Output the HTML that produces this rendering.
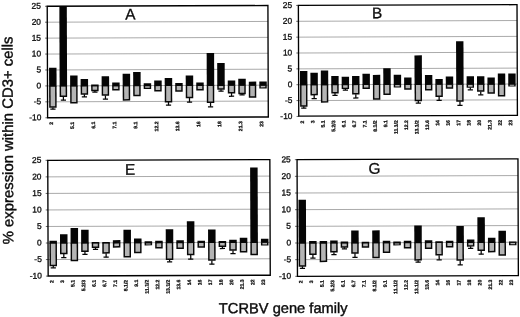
<!DOCTYPE html>
<html><head><meta charset="utf-8"><title>TCRBV gene family expression</title>
<style>
html,body{margin:0;padding:0;background:#fff;}
body{width:520px;height:317px;overflow:hidden;font-family:"Liberation Sans",sans-serif;}
svg{display:block;filter:blur(0.4px);}
.yt{stroke:#0c0c0c;stroke-width:0.3px;}
.xt{stroke:#0c0c0c;stroke-width:0.25px;}
.tt{stroke:#0c0c0c;stroke-width:0.4px;}
.pl{stroke:#0c0c0c;stroke-width:0.3px;}
text{font-family:"Liberation Sans",sans-serif;fill:#0c0c0c;text-rendering:geometricPrecision;}
</style></head>
<body>
<svg width="520" height="317" viewBox="0 0 520 317">
<rect width="520" height="317" fill="#ffffff"/>
<g transform="rotate(-0.2 260 158.5)">
<g>
<line x1="47.75" y1="21.46" x2="268.45" y2="21.46" stroke="#959595" stroke-width="0.8"/>
<line x1="47.75" y1="37.39" x2="268.45" y2="37.39" stroke="#959595" stroke-width="0.8"/>
<line x1="47.75" y1="53.31" x2="268.45" y2="53.31" stroke="#959595" stroke-width="0.8"/>
<line x1="47.75" y1="69.24" x2="268.45" y2="69.24" stroke="#959595" stroke-width="0.8"/>
<line x1="47.75" y1="85.17" x2="268.45" y2="85.17" stroke="#959595" stroke-width="0.8"/>
<line x1="47.75" y1="101.09" x2="268.45" y2="101.09" stroke="#959595" stroke-width="0.8"/>
<line x1="45.55" y1="5.54" x2="47.75" y2="5.54" stroke="#222" stroke-width="0.7"/>
<text x="41.45" y="8.04" font-size="8.4" text-anchor="end" class="yt">25</text>
<line x1="45.55" y1="21.46" x2="47.75" y2="21.46" stroke="#222" stroke-width="0.7"/>
<text x="41.45" y="23.96" font-size="8.4" text-anchor="end" class="yt">20</text>
<line x1="45.55" y1="37.39" x2="47.75" y2="37.39" stroke="#222" stroke-width="0.7"/>
<text x="41.45" y="39.89" font-size="8.4" text-anchor="end" class="yt">15</text>
<line x1="45.55" y1="53.31" x2="47.75" y2="53.31" stroke="#222" stroke-width="0.7"/>
<text x="41.45" y="55.81" font-size="8.4" text-anchor="end" class="yt">10</text>
<line x1="45.55" y1="69.24" x2="47.75" y2="69.24" stroke="#222" stroke-width="0.7"/>
<text x="41.45" y="71.74" font-size="8.4" text-anchor="end" class="yt">5</text>
<line x1="45.55" y1="85.17" x2="47.75" y2="85.17" stroke="#222" stroke-width="0.7"/>
<text x="41.45" y="87.67" font-size="8.4" text-anchor="end" class="yt">0</text>
<line x1="45.55" y1="101.09" x2="47.75" y2="101.09" stroke="#222" stroke-width="0.7"/>
<text x="41.45" y="103.59" font-size="8.4" text-anchor="end" class="yt">-5</text>
<line x1="45.55" y1="117.02" x2="47.75" y2="117.02" stroke="#222" stroke-width="0.7"/>
<text x="41.45" y="119.52" font-size="8.4" text-anchor="end" class="yt">-10</text>
<line x1="53.1" y1="106.66" x2="53.1" y2="108.42" stroke="#050505" stroke-width="1.25"/>
<line x1="50.5" y1="108.42" x2="55.7" y2="108.42" stroke="#050505" stroke-width="1.25"/>
<rect x="49.37" y="85.17" width="7.46" height="21.9" fill="#080808"/>
<rect x="50.82" y="85.67" width="4.56" height="19.9" fill="#b4b4b4"/>
<rect x="49.37" y="67.11" width="7.46" height="18.66" fill="#050505"/>
<line x1="63.61" y1="95.99" x2="63.61" y2="99.5" stroke="#050505" stroke-width="1.25"/>
<line x1="61.01" y1="99.5" x2="66.21" y2="99.5" stroke="#050505" stroke-width="1.25"/>
<rect x="59.88" y="85.17" width="7.46" height="11.23" fill="#080808"/>
<rect x="61.33" y="85.67" width="4.56" height="9.23" fill="#b4b4b4"/>
<rect x="59.88" y="5.54" width="7.46" height="80.22" fill="#050505"/>
<rect x="70.39" y="85.17" width="7.46" height="17.6" fill="#080808"/>
<rect x="71.84" y="85.67" width="4.56" height="15.6" fill="#b4b4b4"/>
<rect x="70.39" y="74.81" width="7.46" height="10.95" fill="#050505"/>
<line x1="84.63" y1="93.76" x2="84.63" y2="96.31" stroke="#050505" stroke-width="1.25"/>
<line x1="82.03" y1="96.31" x2="87.23" y2="96.31" stroke="#050505" stroke-width="1.25"/>
<rect x="80.9" y="85.17" width="7.46" height="9" fill="#080808"/>
<rect x="82.35" y="85.67" width="4.56" height="7" fill="#b4b4b4"/>
<rect x="80.9" y="78.48" width="7.46" height="7.29" fill="#050505"/>
<line x1="95.14" y1="90.26" x2="95.14" y2="91.54" stroke="#050505" stroke-width="1.25"/>
<line x1="92.54" y1="91.54" x2="97.74" y2="91.54" stroke="#050505" stroke-width="1.25"/>
<rect x="91.41" y="85.17" width="7.46" height="5.5" fill="#080808"/>
<rect x="92.86" y="85.67" width="4.56" height="3.5" fill="#b4b4b4"/>
<rect x="91.41" y="83.89" width="7.46" height="1.87" fill="#050505"/>
<line x1="105.65" y1="94.88" x2="105.65" y2="98.54" stroke="#050505" stroke-width="1.25"/>
<line x1="103.05" y1="98.54" x2="108.25" y2="98.54" stroke="#050505" stroke-width="1.25"/>
<rect x="101.92" y="85.17" width="7.46" height="10.11" fill="#080808"/>
<rect x="103.37" y="85.67" width="4.56" height="8.11" fill="#b4b4b4"/>
<rect x="101.92" y="75.77" width="7.46" height="10" fill="#050505"/>
<rect x="112.43" y="85.17" width="7.46" height="4.86" fill="#080808"/>
<rect x="113.88" y="85.67" width="4.56" height="2.86" fill="#b4b4b4"/>
<rect x="112.43" y="81.98" width="7.46" height="3.79" fill="#050505"/>
<rect x="122.94" y="85.17" width="7.46" height="14.99" fill="#080808"/>
<rect x="124.39" y="85.67" width="4.56" height="12.99" fill="#b4b4b4"/>
<rect x="122.94" y="73.38" width="7.46" height="12.38" fill="#050505"/>
<rect x="133.45" y="85.17" width="7.46" height="10.69" fill="#080808"/>
<rect x="134.9" y="85.67" width="4.56" height="8.69" fill="#b4b4b4"/>
<rect x="133.45" y="71.63" width="7.46" height="14.14" fill="#050505"/>
<rect x="143.96" y="85.17" width="7.46" height="3.36" fill="#080808"/>
<rect x="145.41" y="85.67" width="4.56" height="1.79" fill="#b4b4b4"/>
<rect x="143.96" y="82.78" width="7.46" height="2.99" fill="#050505"/>
<rect x="154.47" y="85.17" width="7.46" height="6.07" fill="#080808"/>
<rect x="155.92" y="85.67" width="4.56" height="4.07" fill="#b4b4b4"/>
<rect x="154.47" y="80.07" width="7.46" height="5.7" fill="#050505"/>
<line x1="168.71" y1="101.66" x2="168.71" y2="104.85" stroke="#050505" stroke-width="1.25"/>
<line x1="166.11" y1="104.85" x2="171.31" y2="104.85" stroke="#050505" stroke-width="1.25"/>
<rect x="164.98" y="85.17" width="7.46" height="16.9" fill="#080808"/>
<rect x="166.43" y="85.67" width="4.56" height="14.9" fill="#b4b4b4"/>
<rect x="164.98" y="77.68" width="7.46" height="8.08" fill="#050505"/>
<rect x="175.49" y="85.17" width="7.46" height="6.39" fill="#080808"/>
<rect x="176.94" y="85.67" width="4.56" height="4.39" fill="#b4b4b4"/>
<rect x="175.49" y="82.78" width="7.46" height="2.99" fill="#050505"/>
<line x1="189.73" y1="97.52" x2="189.73" y2="101.98" stroke="#050505" stroke-width="1.25"/>
<line x1="187.13" y1="101.98" x2="192.33" y2="101.98" stroke="#050505" stroke-width="1.25"/>
<rect x="186" y="85.17" width="7.46" height="12.76" fill="#080808"/>
<rect x="187.45" y="85.67" width="4.56" height="10.76" fill="#b4b4b4"/>
<rect x="186" y="75.29" width="7.46" height="10.47" fill="#050505"/>
<rect x="196.51" y="85.17" width="7.46" height="5.02" fill="#080808"/>
<rect x="197.96" y="85.67" width="4.56" height="3.02" fill="#b4b4b4"/>
<rect x="196.51" y="82.23" width="7.46" height="3.53" fill="#050505"/>
<line x1="210.75" y1="102.52" x2="210.75" y2="106.66" stroke="#050505" stroke-width="1.25"/>
<line x1="208.15" y1="106.66" x2="213.35" y2="106.66" stroke="#050505" stroke-width="1.25"/>
<rect x="207.02" y="85.17" width="7.46" height="17.76" fill="#080808"/>
<rect x="208.47" y="85.67" width="4.56" height="15.76" fill="#b4b4b4"/>
<rect x="207.02" y="52.77" width="7.46" height="32.99" fill="#050505"/>
<line x1="221.26" y1="89.15" x2="221.26" y2="91.06" stroke="#050505" stroke-width="1.25"/>
<line x1="218.66" y1="91.06" x2="223.86" y2="91.06" stroke="#050505" stroke-width="1.25"/>
<rect x="217.53" y="85.17" width="7.46" height="4.38" fill="#080808"/>
<rect x="218.98" y="85.67" width="4.56" height="2.48" fill="#b4b4b4"/>
<rect x="217.53" y="62.97" width="7.46" height="22.8" fill="#050505"/>
<line x1="231.77" y1="92.97" x2="231.77" y2="96.15" stroke="#050505" stroke-width="1.25"/>
<line x1="229.17" y1="96.15" x2="234.37" y2="96.15" stroke="#050505" stroke-width="1.25"/>
<rect x="228.04" y="85.17" width="7.46" height="8.2" fill="#080808"/>
<rect x="229.49" y="85.67" width="4.56" height="6.2" fill="#b4b4b4"/>
<rect x="228.04" y="80.32" width="7.46" height="5.44" fill="#050505"/>
<line x1="242.28" y1="93.76" x2="242.28" y2="94.88" stroke="#050505" stroke-width="1.25"/>
<line x1="239.68" y1="94.88" x2="244.88" y2="94.88" stroke="#050505" stroke-width="1.25"/>
<rect x="238.55" y="85.17" width="7.46" height="9" fill="#080808"/>
<rect x="240" y="85.67" width="4.56" height="7" fill="#b4b4b4"/>
<rect x="238.55" y="78.73" width="7.46" height="7.03" fill="#050505"/>
<rect x="249.05" y="85.17" width="7.46" height="12.66" fill="#080808"/>
<rect x="250.5" y="85.67" width="4.56" height="10.66" fill="#b4b4b4"/>
<rect x="249.05" y="81.6" width="7.46" height="4.17" fill="#050505"/>
<rect x="259.56" y="85.17" width="7.46" height="3.27" fill="#080808"/>
<rect x="261.01" y="85.67" width="4.56" height="1.72" fill="#b4b4b4"/>
<rect x="259.56" y="81.6" width="7.46" height="4.17" fill="#050505"/>
<rect x="47.75" y="5.54" width="220.7" height="111.48" fill="none" stroke="#000" stroke-width="1.35"/>
<text transform="translate(53.2,121.15) rotate(-90)" font-size="5.1" font-weight="bold" text-anchor="end" class="xt">2</text>
<text transform="translate(74.22,121.15) rotate(-90)" font-size="5.1" font-weight="bold" text-anchor="end" class="xt">5.1</text>
<text transform="translate(95.24,121.15) rotate(-90)" font-size="5.1" font-weight="bold" text-anchor="end" class="xt">6.1</text>
<text transform="translate(116.26,121.15) rotate(-90)" font-size="5.1" font-weight="bold" text-anchor="end" class="xt">7.1</text>
<text transform="translate(137.28,121.15) rotate(-90)" font-size="5.1" font-weight="bold" text-anchor="end" class="xt">9.1</text>
<text transform="translate(158.3,121.15) rotate(-90)" font-size="5.1" font-weight="bold" text-anchor="end" class="xt">12.2</text>
<text transform="translate(179.32,121.15) rotate(-90)" font-size="5.1" font-weight="bold" text-anchor="end" class="xt">13.6</text>
<text transform="translate(200.34,121.15) rotate(-90)" font-size="5.1" font-weight="bold" text-anchor="end" class="xt">16</text>
<text transform="translate(221.36,121.15) rotate(-90)" font-size="5.1" font-weight="bold" text-anchor="end" class="xt">18</text>
<text transform="translate(242.38,121.15) rotate(-90)" font-size="5.1" font-weight="bold" text-anchor="end" class="xt">21.3</text>
<text transform="translate(263.4,121.15) rotate(-90)" font-size="5.1" font-weight="bold" text-anchor="end" class="xt">23</text>
<text x="130.8" y="19" font-size="15.4" text-anchor="middle" class="pl">A</text>
</g>
<g>
<line x1="298.9" y1="21.42" x2="517.55" y2="21.42" stroke="#959595" stroke-width="0.8"/>
<line x1="298.9" y1="37.28" x2="517.55" y2="37.28" stroke="#959595" stroke-width="0.8"/>
<line x1="298.9" y1="53.14" x2="517.55" y2="53.14" stroke="#959595" stroke-width="0.8"/>
<line x1="298.9" y1="69" x2="517.55" y2="69" stroke="#959595" stroke-width="0.8"/>
<line x1="298.9" y1="84.86" x2="517.55" y2="84.86" stroke="#959595" stroke-width="0.8"/>
<line x1="298.9" y1="100.72" x2="517.55" y2="100.72" stroke="#959595" stroke-width="0.8"/>
<line x1="296.7" y1="5.56" x2="298.9" y2="5.56" stroke="#222" stroke-width="0.7"/>
<text x="292.6" y="8.06" font-size="8.4" text-anchor="end" class="yt">25</text>
<line x1="296.7" y1="21.42" x2="298.9" y2="21.42" stroke="#222" stroke-width="0.7"/>
<text x="292.6" y="23.92" font-size="8.4" text-anchor="end" class="yt">20</text>
<line x1="296.7" y1="37.28" x2="298.9" y2="37.28" stroke="#222" stroke-width="0.7"/>
<text x="292.6" y="39.78" font-size="8.4" text-anchor="end" class="yt">15</text>
<line x1="296.7" y1="53.14" x2="298.9" y2="53.14" stroke="#222" stroke-width="0.7"/>
<text x="292.6" y="55.64" font-size="8.4" text-anchor="end" class="yt">10</text>
<line x1="296.7" y1="69" x2="298.9" y2="69" stroke="#222" stroke-width="0.7"/>
<text x="292.6" y="71.5" font-size="8.4" text-anchor="end" class="yt">5</text>
<line x1="296.7" y1="84.86" x2="298.9" y2="84.86" stroke="#222" stroke-width="0.7"/>
<text x="292.6" y="87.36" font-size="8.4" text-anchor="end" class="yt">0</text>
<line x1="296.7" y1="100.72" x2="298.9" y2="100.72" stroke="#222" stroke-width="0.7"/>
<text x="292.6" y="103.22" font-size="8.4" text-anchor="end" class="yt">-5</text>
<line x1="296.7" y1="116.58" x2="298.9" y2="116.58" stroke="#222" stroke-width="0.7"/>
<text x="292.6" y="119.08" font-size="8.4" text-anchor="end" class="yt">-10</text>
<line x1="303.99" y1="106.43" x2="303.99" y2="108.33" stroke="#050505" stroke-width="1.25"/>
<line x1="301.39" y1="108.33" x2="306.59" y2="108.33" stroke="#050505" stroke-width="1.25"/>
<rect x="300.29" y="84.86" width="7.39" height="21.97" fill="#080808"/>
<rect x="301.74" y="85.36" width="4.49" height="19.97" fill="#b4b4b4"/>
<rect x="300.29" y="71.06" width="7.39" height="14.4" fill="#050505"/>
<line x1="314.4" y1="95.17" x2="314.4" y2="98.82" stroke="#050505" stroke-width="1.25"/>
<line x1="311.8" y1="98.82" x2="317" y2="98.82" stroke="#050505" stroke-width="1.25"/>
<rect x="310.7" y="84.86" width="7.39" height="10.71" fill="#080808"/>
<rect x="312.15" y="85.36" width="4.49" height="8.71" fill="#b4b4b4"/>
<rect x="310.7" y="72.97" width="7.39" height="12.5" fill="#050505"/>
<rect x="321.11" y="84.86" width="7.39" height="18" fill="#080808"/>
<rect x="322.56" y="85.36" width="4.49" height="16" fill="#b4b4b4"/>
<rect x="321.11" y="70.74" width="7.39" height="14.72" fill="#050505"/>
<line x1="335.22" y1="93.27" x2="335.22" y2="95.64" stroke="#050505" stroke-width="1.25"/>
<line x1="332.62" y1="95.64" x2="337.82" y2="95.64" stroke="#050505" stroke-width="1.25"/>
<rect x="331.53" y="84.86" width="7.39" height="8.81" fill="#080808"/>
<rect x="332.98" y="85.36" width="4.49" height="6.81" fill="#b4b4b4"/>
<rect x="331.53" y="76.3" width="7.39" height="9.16" fill="#050505"/>
<line x1="345.63" y1="88.98" x2="345.63" y2="90.41" stroke="#050505" stroke-width="1.25"/>
<line x1="343.03" y1="90.41" x2="348.23" y2="90.41" stroke="#050505" stroke-width="1.25"/>
<rect x="341.94" y="84.86" width="7.39" height="4.52" fill="#080808"/>
<rect x="343.39" y="85.36" width="4.49" height="2.58" fill="#b4b4b4"/>
<rect x="341.94" y="77.09" width="7.39" height="8.37" fill="#050505"/>
<line x1="356.05" y1="94.53" x2="356.05" y2="98.34" stroke="#050505" stroke-width="1.25"/>
<line x1="353.45" y1="98.34" x2="358.65" y2="98.34" stroke="#050505" stroke-width="1.25"/>
<rect x="352.35" y="84.86" width="7.39" height="10.07" fill="#080808"/>
<rect x="353.8" y="85.36" width="4.49" height="8.07" fill="#b4b4b4"/>
<rect x="352.35" y="76.3" width="7.39" height="9.16" fill="#050505"/>
<rect x="362.76" y="84.86" width="7.39" height="4.52" fill="#080808"/>
<rect x="364.21" y="85.36" width="4.49" height="2.58" fill="#b4b4b4"/>
<rect x="362.76" y="74.23" width="7.39" height="11.23" fill="#050505"/>
<rect x="373.17" y="84.86" width="7.39" height="15.4" fill="#080808"/>
<rect x="374.62" y="85.36" width="4.49" height="13.4" fill="#b4b4b4"/>
<rect x="373.17" y="75.28" width="7.39" height="10.18" fill="#050505"/>
<rect x="383.58" y="84.86" width="7.39" height="10.65" fill="#080808"/>
<rect x="385.03" y="85.36" width="4.49" height="8.65" fill="#b4b4b4"/>
<rect x="383.58" y="68.62" width="7.39" height="16.84" fill="#050505"/>
<rect x="394" y="84.86" width="7.39" height="3.03" fill="#080808"/>
<rect x="395.45" y="85.36" width="4.49" height="1.56" fill="#b4b4b4"/>
<rect x="394" y="75.28" width="7.39" height="10.18" fill="#050505"/>
<rect x="404.41" y="84.86" width="7.39" height="5.41" fill="#080808"/>
<rect x="405.86" y="85.36" width="4.49" height="3.41" fill="#b4b4b4"/>
<rect x="404.41" y="77.98" width="7.39" height="7.48" fill="#050505"/>
<line x1="418.52" y1="101.45" x2="418.52" y2="103.67" stroke="#050505" stroke-width="1.25"/>
<line x1="415.92" y1="103.67" x2="421.12" y2="103.67" stroke="#050505" stroke-width="1.25"/>
<rect x="414.82" y="84.86" width="7.39" height="16.99" fill="#080808"/>
<rect x="416.27" y="85.36" width="4.49" height="14.99" fill="#b4b4b4"/>
<rect x="414.82" y="55.93" width="7.39" height="29.53" fill="#050505"/>
<rect x="425.23" y="84.86" width="7.39" height="6.2" fill="#080808"/>
<rect x="426.68" y="85.36" width="4.49" height="4.2" fill="#b4b4b4"/>
<rect x="425.23" y="75.6" width="7.39" height="9.86" fill="#050505"/>
<line x1="439.34" y1="97.33" x2="439.34" y2="100.97" stroke="#050505" stroke-width="1.25"/>
<line x1="436.74" y1="100.97" x2="441.94" y2="100.97" stroke="#050505" stroke-width="1.25"/>
<rect x="435.64" y="84.86" width="7.39" height="12.87" fill="#080808"/>
<rect x="437.09" y="85.36" width="4.49" height="10.87" fill="#b4b4b4"/>
<rect x="435.64" y="79.72" width="7.39" height="5.74" fill="#050505"/>
<rect x="446.06" y="84.86" width="7.39" height="4.52" fill="#080808"/>
<rect x="447.51" y="85.36" width="4.49" height="2.58" fill="#b4b4b4"/>
<rect x="446.06" y="77.09" width="7.39" height="8.37" fill="#050505"/>
<line x1="460.16" y1="101.99" x2="460.16" y2="106.11" stroke="#050505" stroke-width="1.25"/>
<line x1="457.56" y1="106.11" x2="462.76" y2="106.11" stroke="#050505" stroke-width="1.25"/>
<rect x="456.47" y="84.86" width="7.39" height="17.53" fill="#080808"/>
<rect x="457.92" y="85.36" width="4.49" height="15.53" fill="#b4b4b4"/>
<rect x="456.47" y="41.88" width="7.39" height="43.58" fill="#050505"/>
<line x1="470.58" y1="88.19" x2="470.58" y2="90.57" stroke="#050505" stroke-width="1.25"/>
<line x1="467.98" y1="90.57" x2="473.18" y2="90.57" stroke="#050505" stroke-width="1.25"/>
<rect x="466.88" y="84.86" width="7.39" height="3.73" fill="#080808"/>
<rect x="468.33" y="85.36" width="4.49" height="2.04" fill="#b4b4b4"/>
<rect x="466.88" y="77.09" width="7.39" height="8.37" fill="#050505"/>
<line x1="480.99" y1="92.16" x2="480.99" y2="95.64" stroke="#050505" stroke-width="1.25"/>
<line x1="478.39" y1="95.64" x2="483.59" y2="95.64" stroke="#050505" stroke-width="1.25"/>
<rect x="477.29" y="84.86" width="7.39" height="7.7" fill="#080808"/>
<rect x="478.74" y="85.36" width="4.49" height="5.7" fill="#b4b4b4"/>
<rect x="477.29" y="77.09" width="7.39" height="8.37" fill="#050505"/>
<rect x="487.7" y="84.86" width="7.39" height="9.6" fill="#080808"/>
<rect x="489.15" y="85.36" width="4.49" height="7.6" fill="#b4b4b4"/>
<rect x="487.7" y="78.36" width="7.39" height="7.1" fill="#050505"/>
<rect x="498.12" y="84.86" width="7.39" height="12.45" fill="#080808"/>
<rect x="499.57" y="85.36" width="4.49" height="10.45" fill="#b4b4b4"/>
<rect x="498.12" y="74.39" width="7.39" height="11.07" fill="#050505"/>
<rect x="508.53" y="84.86" width="7.39" height="2.62" fill="#080808"/>
<rect x="509.98" y="85.36" width="4.49" height="1.28" fill="#b4b4b4"/>
<rect x="508.53" y="74.39" width="7.39" height="11.07" fill="#050505"/>
<rect x="298.9" y="5.56" width="218.65" height="110.74" fill="none" stroke="#000" stroke-width="1.35"/>
<text transform="translate(304.09,120.7) rotate(-90)" font-size="5.1" font-weight="bold" text-anchor="end" class="xt">2</text>
<text transform="translate(314.5,120.7) rotate(-90)" font-size="5.1" font-weight="bold" text-anchor="end" class="xt">3</text>
<text transform="translate(324.91,120.7) rotate(-90)" font-size="5.1" font-weight="bold" text-anchor="end" class="xt">5.1</text>
<text transform="translate(335.32,120.7) rotate(-90)" font-size="5.1" font-weight="bold" text-anchor="end" class="xt">5.2/3</text>
<text transform="translate(345.73,120.7) rotate(-90)" font-size="5.1" font-weight="bold" text-anchor="end" class="xt">6.1</text>
<text transform="translate(356.15,120.7) rotate(-90)" font-size="5.1" font-weight="bold" text-anchor="end" class="xt">6.7</text>
<text transform="translate(366.56,120.7) rotate(-90)" font-size="5.1" font-weight="bold" text-anchor="end" class="xt">7.1</text>
<text transform="translate(376.97,120.7) rotate(-90)" font-size="5.1" font-weight="bold" text-anchor="end" class="xt">8.1/2</text>
<text transform="translate(387.38,120.7) rotate(-90)" font-size="5.1" font-weight="bold" text-anchor="end" class="xt">9.1</text>
<text transform="translate(397.79,120.7) rotate(-90)" font-size="5.1" font-weight="bold" text-anchor="end" class="xt">11.1/2</text>
<text transform="translate(408.2,120.7) rotate(-90)" font-size="5.1" font-weight="bold" text-anchor="end" class="xt">12.2</text>
<text transform="translate(418.62,120.7) rotate(-90)" font-size="5.1" font-weight="bold" text-anchor="end" class="xt">13.1/2</text>
<text transform="translate(429.03,120.7) rotate(-90)" font-size="5.1" font-weight="bold" text-anchor="end" class="xt">13.6</text>
<text transform="translate(439.44,120.7) rotate(-90)" font-size="5.1" font-weight="bold" text-anchor="end" class="xt">14</text>
<text transform="translate(449.85,120.7) rotate(-90)" font-size="5.1" font-weight="bold" text-anchor="end" class="xt">16</text>
<text transform="translate(460.26,120.7) rotate(-90)" font-size="5.1" font-weight="bold" text-anchor="end" class="xt">17</text>
<text transform="translate(470.68,120.7) rotate(-90)" font-size="5.1" font-weight="bold" text-anchor="end" class="xt">18</text>
<text transform="translate(481.09,120.7) rotate(-90)" font-size="5.1" font-weight="bold" text-anchor="end" class="xt">20</text>
<text transform="translate(491.5,120.7) rotate(-90)" font-size="5.1" font-weight="bold" text-anchor="end" class="xt">21.3</text>
<text transform="translate(501.91,120.7) rotate(-90)" font-size="5.1" font-weight="bold" text-anchor="end" class="xt">22</text>
<text transform="translate(512.32,120.7) rotate(-90)" font-size="5.1" font-weight="bold" text-anchor="end" class="xt">23</text>
<text x="377.6" y="18.6" font-size="15.4" text-anchor="middle" class="pl">B</text>
</g>
<g>
<line x1="47.75" y1="176.13" x2="269.85" y2="176.13" stroke="#959595" stroke-width="0.8"/>
<line x1="47.75" y1="192.67" x2="269.85" y2="192.67" stroke="#959595" stroke-width="0.8"/>
<line x1="47.75" y1="209.2" x2="269.85" y2="209.2" stroke="#959595" stroke-width="0.8"/>
<line x1="47.75" y1="225.74" x2="269.85" y2="225.74" stroke="#959595" stroke-width="0.8"/>
<line x1="47.75" y1="242.27" x2="269.85" y2="242.27" stroke="#959595" stroke-width="0.8"/>
<line x1="47.75" y1="258.81" x2="269.85" y2="258.81" stroke="#959595" stroke-width="0.8"/>
<line x1="45.55" y1="159.6" x2="47.75" y2="159.6" stroke="#222" stroke-width="0.7"/>
<text x="41.45" y="162.1" font-size="8.4" text-anchor="end" class="yt">25</text>
<line x1="45.55" y1="176.13" x2="47.75" y2="176.13" stroke="#222" stroke-width="0.7"/>
<text x="41.45" y="178.63" font-size="8.4" text-anchor="end" class="yt">20</text>
<line x1="45.55" y1="192.67" x2="47.75" y2="192.67" stroke="#222" stroke-width="0.7"/>
<text x="41.45" y="195.17" font-size="8.4" text-anchor="end" class="yt">15</text>
<line x1="45.55" y1="209.2" x2="47.75" y2="209.2" stroke="#222" stroke-width="0.7"/>
<text x="41.45" y="211.7" font-size="8.4" text-anchor="end" class="yt">10</text>
<line x1="45.55" y1="225.74" x2="47.75" y2="225.74" stroke="#222" stroke-width="0.7"/>
<text x="41.45" y="228.24" font-size="8.4" text-anchor="end" class="yt">5</text>
<line x1="45.55" y1="242.27" x2="47.75" y2="242.27" stroke="#222" stroke-width="0.7"/>
<text x="41.45" y="244.77" font-size="8.4" text-anchor="end" class="yt">0</text>
<line x1="45.55" y1="258.81" x2="47.75" y2="258.81" stroke="#222" stroke-width="0.7"/>
<text x="41.45" y="261.31" font-size="8.4" text-anchor="end" class="yt">-5</text>
<line x1="45.55" y1="275.35" x2="47.75" y2="275.35" stroke="#222" stroke-width="0.7"/>
<text x="41.45" y="277.85" font-size="8.4" text-anchor="end" class="yt">-10</text>
<line x1="52.89" y1="265.09" x2="52.89" y2="267.08" stroke="#050505" stroke-width="1.25"/>
<line x1="50.29" y1="267.08" x2="55.49" y2="267.08" stroke="#050505" stroke-width="1.25"/>
<rect x="49.13" y="242.27" width="7.51" height="23.22" fill="#080808"/>
<rect x="50.58" y="242.77" width="4.61" height="21.22" fill="#b4b4b4"/>
<rect x="49.13" y="240.06" width="7.51" height="2.82" fill="#050505"/>
<line x1="63.46" y1="253.19" x2="63.46" y2="256.99" stroke="#050505" stroke-width="1.25"/>
<line x1="60.86" y1="256.99" x2="66.06" y2="256.99" stroke="#050505" stroke-width="1.25"/>
<rect x="59.71" y="242.27" width="7.51" height="11.31" fill="#080808"/>
<rect x="61.16" y="242.77" width="4.61" height="9.31" fill="#b4b4b4"/>
<rect x="59.71" y="233.58" width="7.51" height="9.3" fill="#050505"/>
<rect x="70.29" y="242.27" width="7.51" height="18.26" fill="#080808"/>
<rect x="71.74" y="242.77" width="4.61" height="16.26" fill="#b4b4b4"/>
<rect x="70.29" y="227.39" width="7.51" height="15.48" fill="#050505"/>
<line x1="84.62" y1="250.97" x2="84.62" y2="253.85" stroke="#050505" stroke-width="1.25"/>
<line x1="82.02" y1="253.85" x2="87.22" y2="253.85" stroke="#050505" stroke-width="1.25"/>
<rect x="80.86" y="242.27" width="7.51" height="9.1" fill="#080808"/>
<rect x="82.31" y="242.77" width="4.61" height="7.1" fill="#b4b4b4"/>
<rect x="80.86" y="229.05" width="7.51" height="13.83" fill="#050505"/>
<line x1="95.19" y1="247.07" x2="95.19" y2="248.72" stroke="#050505" stroke-width="1.25"/>
<line x1="92.59" y1="248.72" x2="97.79" y2="248.72" stroke="#050505" stroke-width="1.25"/>
<rect x="91.44" y="242.27" width="7.51" height="5.2" fill="#080808"/>
<rect x="92.89" y="242.77" width="4.61" height="3.2" fill="#b4b4b4"/>
<rect x="91.44" y="241.45" width="7.51" height="1.43" fill="#050505"/>
<line x1="105.77" y1="252.69" x2="105.77" y2="256.66" stroke="#050505" stroke-width="1.25"/>
<line x1="103.17" y1="256.66" x2="108.37" y2="256.66" stroke="#050505" stroke-width="1.25"/>
<rect x="102.01" y="242.27" width="7.51" height="10.82" fill="#080808"/>
<rect x="103.46" y="242.77" width="4.61" height="8.82" fill="#b4b4b4"/>
<rect x="102.01" y="241.45" width="7.51" height="1.43" fill="#050505"/>
<rect x="112.59" y="242.27" width="7.51" height="4.86" fill="#080808"/>
<rect x="114.04" y="242.77" width="4.61" height="2.86" fill="#b4b4b4"/>
<rect x="112.59" y="239.63" width="7.51" height="3.25" fill="#050505"/>
<rect x="123.17" y="242.27" width="7.51" height="14.79" fill="#080808"/>
<rect x="124.62" y="242.77" width="4.61" height="12.79" fill="#b4b4b4"/>
<rect x="123.17" y="229.38" width="7.51" height="13.5" fill="#050505"/>
<rect x="133.74" y="242.27" width="7.51" height="10.65" fill="#080808"/>
<rect x="135.19" y="242.77" width="4.61" height="8.65" fill="#b4b4b4"/>
<rect x="133.74" y="237.98" width="7.51" height="4.9" fill="#050505"/>
<rect x="144.32" y="242.27" width="7.51" height="2.71" fill="#080808"/>
<rect x="145.77" y="242.77" width="4.61" height="1.35" fill="#b4b4b4"/>
<rect x="144.32" y="240.95" width="7.51" height="1.92" fill="#050505"/>
<rect x="154.9" y="242.27" width="7.51" height="5.86" fill="#080808"/>
<rect x="156.35" y="242.77" width="4.61" height="3.86" fill="#b4b4b4"/>
<rect x="154.9" y="240.46" width="7.51" height="2.42" fill="#050505"/>
<line x1="169.23" y1="259.31" x2="169.23" y2="261.46" stroke="#050505" stroke-width="1.25"/>
<line x1="166.63" y1="261.46" x2="171.83" y2="261.46" stroke="#050505" stroke-width="1.25"/>
<rect x="165.47" y="242.27" width="7.51" height="17.43" fill="#080808"/>
<rect x="166.92" y="242.77" width="4.61" height="15.43" fill="#b4b4b4"/>
<rect x="165.47" y="228.88" width="7.51" height="13.99" fill="#050505"/>
<rect x="176.05" y="242.27" width="7.51" height="6.35" fill="#080808"/>
<rect x="177.5" y="242.77" width="4.61" height="4.35" fill="#b4b4b4"/>
<rect x="176.05" y="239.96" width="7.51" height="2.91" fill="#050505"/>
<line x1="190.38" y1="254.51" x2="190.38" y2="258.98" stroke="#050505" stroke-width="1.25"/>
<line x1="187.78" y1="258.98" x2="192.98" y2="258.98" stroke="#050505" stroke-width="1.25"/>
<rect x="186.62" y="242.27" width="7.51" height="12.64" fill="#080808"/>
<rect x="188.07" y="242.77" width="4.61" height="10.64" fill="#b4b4b4"/>
<rect x="186.62" y="220.94" width="7.51" height="21.93" fill="#050505"/>
<rect x="197.2" y="242.27" width="7.51" height="5.33" fill="#080808"/>
<rect x="198.65" y="242.77" width="4.61" height="3.33" fill="#b4b4b4"/>
<rect x="197.2" y="240.46" width="7.51" height="2.42" fill="#050505"/>
<line x1="211.53" y1="260.27" x2="211.53" y2="264.07" stroke="#050505" stroke-width="1.25"/>
<line x1="208.93" y1="264.07" x2="214.13" y2="264.07" stroke="#050505" stroke-width="1.25"/>
<rect x="207.78" y="242.27" width="7.51" height="18.39" fill="#080808"/>
<rect x="209.23" y="242.77" width="4.61" height="16.39" fill="#b4b4b4"/>
<rect x="207.78" y="229.38" width="7.51" height="13.5" fill="#050505"/>
<line x1="222.11" y1="246.38" x2="222.11" y2="248.36" stroke="#050505" stroke-width="1.25"/>
<line x1="219.51" y1="248.36" x2="224.71" y2="248.36" stroke="#050505" stroke-width="1.25"/>
<rect x="218.35" y="242.27" width="7.51" height="4.5" fill="#080808"/>
<rect x="219.8" y="242.77" width="4.61" height="2.56" fill="#b4b4b4"/>
<rect x="218.35" y="240.95" width="7.51" height="1.92" fill="#050505"/>
<line x1="232.68" y1="250.34" x2="232.68" y2="253.49" stroke="#050505" stroke-width="1.25"/>
<line x1="230.08" y1="253.49" x2="235.28" y2="253.49" stroke="#050505" stroke-width="1.25"/>
<rect x="228.93" y="242.27" width="7.51" height="8.47" fill="#080808"/>
<rect x="230.38" y="242.77" width="4.61" height="6.47" fill="#b4b4b4"/>
<rect x="228.93" y="239.63" width="7.51" height="3.25" fill="#050505"/>
<rect x="239.5" y="242.27" width="7.51" height="10.12" fill="#080808"/>
<rect x="240.95" y="242.77" width="4.61" height="8.12" fill="#b4b4b4"/>
<rect x="239.5" y="237.65" width="7.51" height="5.23" fill="#050505"/>
<rect x="250.08" y="242.27" width="7.51" height="12.93" fill="#080808"/>
<rect x="251.53" y="242.77" width="4.61" height="10.93" fill="#b4b4b4"/>
<rect x="250.08" y="167.37" width="7.51" height="75.5" fill="#050505"/>
<rect x="260.66" y="242.27" width="7.51" height="3.34" fill="#080808"/>
<rect x="262.11" y="242.77" width="4.61" height="1.77" fill="#b4b4b4"/>
<rect x="260.66" y="238.8" width="7.51" height="4.07" fill="#050505"/>
<rect x="47.75" y="159.6" width="222.1" height="115.65" fill="none" stroke="#000" stroke-width="1.35"/>
<text transform="translate(52.99,279.35) rotate(-90)" font-size="5.1" font-weight="bold" text-anchor="end" class="xt">2</text>
<text transform="translate(63.56,279.35) rotate(-90)" font-size="5.1" font-weight="bold" text-anchor="end" class="xt">3</text>
<text transform="translate(74.14,279.35) rotate(-90)" font-size="5.1" font-weight="bold" text-anchor="end" class="xt">5.1</text>
<text transform="translate(84.72,279.35) rotate(-90)" font-size="5.1" font-weight="bold" text-anchor="end" class="xt">5.2/3</text>
<text transform="translate(95.29,279.35) rotate(-90)" font-size="5.1" font-weight="bold" text-anchor="end" class="xt">6.1</text>
<text transform="translate(105.87,279.35) rotate(-90)" font-size="5.1" font-weight="bold" text-anchor="end" class="xt">6.7</text>
<text transform="translate(116.45,279.35) rotate(-90)" font-size="5.1" font-weight="bold" text-anchor="end" class="xt">7.1</text>
<text transform="translate(127.02,279.35) rotate(-90)" font-size="5.1" font-weight="bold" text-anchor="end" class="xt">8.1/2</text>
<text transform="translate(137.6,279.35) rotate(-90)" font-size="5.1" font-weight="bold" text-anchor="end" class="xt">9.1</text>
<text transform="translate(148.17,279.35) rotate(-90)" font-size="5.1" font-weight="bold" text-anchor="end" class="xt">11.1/2</text>
<text transform="translate(158.75,279.35) rotate(-90)" font-size="5.1" font-weight="bold" text-anchor="end" class="xt">12.2</text>
<text transform="translate(169.33,279.35) rotate(-90)" font-size="5.1" font-weight="bold" text-anchor="end" class="xt">13.1/2</text>
<text transform="translate(179.9,279.35) rotate(-90)" font-size="5.1" font-weight="bold" text-anchor="end" class="xt">13.6</text>
<text transform="translate(190.48,279.35) rotate(-90)" font-size="5.1" font-weight="bold" text-anchor="end" class="xt">14</text>
<text transform="translate(201.05,279.35) rotate(-90)" font-size="5.1" font-weight="bold" text-anchor="end" class="xt">16</text>
<text transform="translate(211.63,279.35) rotate(-90)" font-size="5.1" font-weight="bold" text-anchor="end" class="xt">17</text>
<text transform="translate(222.21,279.35) rotate(-90)" font-size="5.1" font-weight="bold" text-anchor="end" class="xt">18</text>
<text transform="translate(232.78,279.35) rotate(-90)" font-size="5.1" font-weight="bold" text-anchor="end" class="xt">20</text>
<text transform="translate(243.36,279.35) rotate(-90)" font-size="5.1" font-weight="bold" text-anchor="end" class="xt">21.3</text>
<text transform="translate(253.94,279.35) rotate(-90)" font-size="5.1" font-weight="bold" text-anchor="end" class="xt">22</text>
<text transform="translate(264.51,279.35) rotate(-90)" font-size="5.1" font-weight="bold" text-anchor="end" class="xt">23</text>
<text x="130" y="174.3" font-size="15.4" text-anchor="middle" class="pl">E</text>
</g>
<g>
<line x1="297.05" y1="176.47" x2="517.95" y2="176.47" stroke="#959595" stroke-width="0.8"/>
<line x1="297.05" y1="193.13" x2="517.95" y2="193.13" stroke="#959595" stroke-width="0.8"/>
<line x1="297.05" y1="209.8" x2="517.95" y2="209.8" stroke="#959595" stroke-width="0.8"/>
<line x1="297.05" y1="226.46" x2="517.95" y2="226.46" stroke="#959595" stroke-width="0.8"/>
<line x1="297.05" y1="243.12" x2="517.95" y2="243.12" stroke="#959595" stroke-width="0.8"/>
<line x1="297.05" y1="259.79" x2="517.95" y2="259.79" stroke="#959595" stroke-width="0.8"/>
<line x1="294.85" y1="159.8" x2="297.05" y2="159.8" stroke="#222" stroke-width="0.7"/>
<text x="290.75" y="162.3" font-size="8.4" text-anchor="end" class="yt">25</text>
<line x1="294.85" y1="176.47" x2="297.05" y2="176.47" stroke="#222" stroke-width="0.7"/>
<text x="290.75" y="178.97" font-size="8.4" text-anchor="end" class="yt">20</text>
<line x1="294.85" y1="193.13" x2="297.05" y2="193.13" stroke="#222" stroke-width="0.7"/>
<text x="290.75" y="195.63" font-size="8.4" text-anchor="end" class="yt">15</text>
<line x1="294.85" y1="209.8" x2="297.05" y2="209.8" stroke="#222" stroke-width="0.7"/>
<text x="290.75" y="212.3" font-size="8.4" text-anchor="end" class="yt">10</text>
<line x1="294.85" y1="226.46" x2="297.05" y2="226.46" stroke="#222" stroke-width="0.7"/>
<text x="290.75" y="228.96" font-size="8.4" text-anchor="end" class="yt">5</text>
<line x1="294.85" y1="243.12" x2="297.05" y2="243.12" stroke="#222" stroke-width="0.7"/>
<text x="290.75" y="245.62" font-size="8.4" text-anchor="end" class="yt">0</text>
<line x1="294.85" y1="259.79" x2="297.05" y2="259.79" stroke="#222" stroke-width="0.7"/>
<text x="290.75" y="262.29" font-size="8.4" text-anchor="end" class="yt">-5</text>
<line x1="294.85" y1="276.46" x2="297.05" y2="276.46" stroke="#222" stroke-width="0.7"/>
<text x="290.75" y="278.96" font-size="8.4" text-anchor="end" class="yt">-10</text>
<line x1="302.06" y1="266.46" x2="302.06" y2="268.46" stroke="#050505" stroke-width="1.25"/>
<line x1="299.46" y1="268.46" x2="304.66" y2="268.46" stroke="#050505" stroke-width="1.25"/>
<rect x="298.33" y="243.12" width="7.47" height="23.73" fill="#080808"/>
<rect x="299.78" y="243.62" width="4.57" height="21.73" fill="#b4b4b4"/>
<rect x="298.33" y="199.8" width="7.47" height="43.93" fill="#050505"/>
<line x1="312.58" y1="254.79" x2="312.58" y2="258.29" stroke="#050505" stroke-width="1.25"/>
<line x1="309.98" y1="258.29" x2="315.18" y2="258.29" stroke="#050505" stroke-width="1.25"/>
<rect x="308.84" y="243.12" width="7.47" height="12.07" fill="#080808"/>
<rect x="310.29" y="243.62" width="4.57" height="10.07" fill="#b4b4b4"/>
<rect x="308.84" y="241.29" width="7.47" height="2.43" fill="#050505"/>
<rect x="319.36" y="243.12" width="7.47" height="19.23" fill="#080808"/>
<rect x="320.81" y="243.62" width="4.57" height="17.23" fill="#b4b4b4"/>
<rect x="319.36" y="241.29" width="7.47" height="2.43" fill="#050505"/>
<line x1="333.62" y1="252.46" x2="333.62" y2="254.79" stroke="#050505" stroke-width="1.25"/>
<line x1="331.02" y1="254.79" x2="336.22" y2="254.79" stroke="#050505" stroke-width="1.25"/>
<rect x="329.88" y="243.12" width="7.47" height="9.73" fill="#080808"/>
<rect x="331.33" y="243.62" width="4.57" height="7.73" fill="#b4b4b4"/>
<rect x="329.88" y="240.79" width="7.47" height="2.93" fill="#050505"/>
<line x1="344.14" y1="247.62" x2="344.14" y2="249.12" stroke="#050505" stroke-width="1.25"/>
<line x1="341.54" y1="249.12" x2="346.74" y2="249.12" stroke="#050505" stroke-width="1.25"/>
<rect x="340.4" y="243.12" width="7.47" height="4.9" fill="#080808"/>
<rect x="341.85" y="243.62" width="4.57" height="2.9" fill="#b4b4b4"/>
<rect x="340.4" y="241.79" width="7.47" height="1.93" fill="#050505"/>
<line x1="354.65" y1="253.62" x2="354.65" y2="257.62" stroke="#050505" stroke-width="1.25"/>
<line x1="352.05" y1="257.62" x2="357.25" y2="257.62" stroke="#050505" stroke-width="1.25"/>
<rect x="350.92" y="243.12" width="7.47" height="10.9" fill="#080808"/>
<rect x="352.37" y="243.62" width="4.57" height="8.9" fill="#b4b4b4"/>
<rect x="350.92" y="230.79" width="7.47" height="12.93" fill="#050505"/>
<rect x="361.44" y="243.12" width="7.47" height="5.07" fill="#080808"/>
<rect x="362.89" y="243.62" width="4.57" height="3.07" fill="#b4b4b4"/>
<rect x="361.44" y="242.13" width="7.47" height="1.6" fill="#050505"/>
<rect x="371.96" y="243.12" width="7.47" height="15.57" fill="#080808"/>
<rect x="373.41" y="243.62" width="4.57" height="13.57" fill="#b4b4b4"/>
<rect x="371.96" y="230.79" width="7.47" height="12.93" fill="#050505"/>
<rect x="382.48" y="243.12" width="7.47" height="10.4" fill="#080808"/>
<rect x="383.93" y="243.62" width="4.57" height="8.4" fill="#b4b4b4"/>
<rect x="382.48" y="241.29" width="7.47" height="2.43" fill="#050505"/>
<rect x="393" y="243.12" width="7.47" height="2.73" fill="#080808"/>
<rect x="394.45" y="243.62" width="4.57" height="1.36" fill="#b4b4b4"/>
<rect x="393" y="241.96" width="7.47" height="1.77" fill="#050505"/>
<rect x="403.52" y="243.12" width="7.47" height="5.9" fill="#080808"/>
<rect x="404.97" y="243.62" width="4.57" height="3.9" fill="#b4b4b4"/>
<rect x="403.52" y="241.29" width="7.47" height="2.43" fill="#050505"/>
<line x1="417.77" y1="260.79" x2="417.77" y2="262.79" stroke="#050505" stroke-width="1.25"/>
<line x1="415.17" y1="262.79" x2="420.37" y2="262.79" stroke="#050505" stroke-width="1.25"/>
<rect x="414.03" y="243.12" width="7.47" height="18.06" fill="#080808"/>
<rect x="415.48" y="243.62" width="4.57" height="16.06" fill="#b4b4b4"/>
<rect x="414.03" y="226.13" width="7.47" height="17.6" fill="#050505"/>
<rect x="424.55" y="243.12" width="7.47" height="6.4" fill="#080808"/>
<rect x="426" y="243.62" width="4.57" height="4.4" fill="#b4b4b4"/>
<rect x="424.55" y="240.79" width="7.47" height="2.93" fill="#050505"/>
<line x1="438.81" y1="255.79" x2="438.81" y2="260.46" stroke="#050505" stroke-width="1.25"/>
<line x1="436.21" y1="260.46" x2="441.41" y2="260.46" stroke="#050505" stroke-width="1.25"/>
<rect x="435.07" y="243.12" width="7.47" height="13.07" fill="#080808"/>
<rect x="436.52" y="243.62" width="4.57" height="11.07" fill="#b4b4b4"/>
<rect x="435.07" y="241.96" width="7.47" height="1.77" fill="#050505"/>
<rect x="445.59" y="243.12" width="7.47" height="5.07" fill="#080808"/>
<rect x="447.04" y="243.62" width="4.57" height="3.07" fill="#b4b4b4"/>
<rect x="445.59" y="241.46" width="7.47" height="2.27" fill="#050505"/>
<line x1="459.85" y1="261.12" x2="459.85" y2="265.62" stroke="#050505" stroke-width="1.25"/>
<line x1="457.25" y1="265.62" x2="462.45" y2="265.62" stroke="#050505" stroke-width="1.25"/>
<rect x="456.11" y="243.12" width="7.47" height="18.4" fill="#080808"/>
<rect x="457.56" y="243.62" width="4.57" height="16.4" fill="#b4b4b4"/>
<rect x="456.11" y="226.79" width="7.47" height="16.93" fill="#050505"/>
<line x1="470.36" y1="246.96" x2="470.36" y2="249.12" stroke="#050505" stroke-width="1.25"/>
<line x1="467.76" y1="249.12" x2="472.96" y2="249.12" stroke="#050505" stroke-width="1.25"/>
<rect x="466.63" y="243.12" width="7.47" height="4.23" fill="#080808"/>
<rect x="468.08" y="243.62" width="4.57" height="2.38" fill="#b4b4b4"/>
<rect x="466.63" y="240.13" width="7.47" height="3.6" fill="#050505"/>
<line x1="480.88" y1="251.29" x2="480.88" y2="254.96" stroke="#050505" stroke-width="1.25"/>
<line x1="478.28" y1="254.96" x2="483.48" y2="254.96" stroke="#050505" stroke-width="1.25"/>
<rect x="477.15" y="243.12" width="7.47" height="8.57" fill="#080808"/>
<rect x="478.6" y="243.62" width="4.57" height="6.57" fill="#b4b4b4"/>
<rect x="477.15" y="218.13" width="7.47" height="25.6" fill="#050505"/>
<rect x="487.67" y="243.12" width="7.47" height="10.07" fill="#080808"/>
<rect x="489.12" y="243.62" width="4.57" height="8.07" fill="#b4b4b4"/>
<rect x="487.67" y="238.46" width="7.47" height="5.27" fill="#050505"/>
<rect x="498.19" y="243.12" width="7.47" height="13.4" fill="#080808"/>
<rect x="499.64" y="243.62" width="4.57" height="11.4" fill="#b4b4b4"/>
<rect x="498.19" y="231.63" width="7.47" height="12.1" fill="#050505"/>
<rect x="508.71" y="243.12" width="7.47" height="2.9" fill="#080808"/>
<rect x="510.16" y="243.62" width="4.57" height="1.47" fill="#b4b4b4"/>
<rect x="508.71" y="242.29" width="7.47" height="1.43" fill="#050505"/>
<rect x="297.05" y="159.8" width="220.9" height="116.66" fill="none" stroke="#000" stroke-width="1.35"/>
<text transform="translate(302.16,280.5) rotate(-90)" font-size="5.1" font-weight="bold" text-anchor="end" class="xt">2</text>
<text transform="translate(312.68,280.5) rotate(-90)" font-size="5.1" font-weight="bold" text-anchor="end" class="xt">3</text>
<text transform="translate(323.2,280.5) rotate(-90)" font-size="5.1" font-weight="bold" text-anchor="end" class="xt">5.1</text>
<text transform="translate(333.72,280.5) rotate(-90)" font-size="5.1" font-weight="bold" text-anchor="end" class="xt">5.2/3</text>
<text transform="translate(344.24,280.5) rotate(-90)" font-size="5.1" font-weight="bold" text-anchor="end" class="xt">6.1</text>
<text transform="translate(354.75,280.5) rotate(-90)" font-size="5.1" font-weight="bold" text-anchor="end" class="xt">6.7</text>
<text transform="translate(365.27,280.5) rotate(-90)" font-size="5.1" font-weight="bold" text-anchor="end" class="xt">7.1</text>
<text transform="translate(375.79,280.5) rotate(-90)" font-size="5.1" font-weight="bold" text-anchor="end" class="xt">8.1/2</text>
<text transform="translate(386.31,280.5) rotate(-90)" font-size="5.1" font-weight="bold" text-anchor="end" class="xt">9.1</text>
<text transform="translate(396.83,280.5) rotate(-90)" font-size="5.1" font-weight="bold" text-anchor="end" class="xt">11.1/2</text>
<text transform="translate(407.35,280.5) rotate(-90)" font-size="5.1" font-weight="bold" text-anchor="end" class="xt">12.2</text>
<text transform="translate(417.87,280.5) rotate(-90)" font-size="5.1" font-weight="bold" text-anchor="end" class="xt">13.1/2</text>
<text transform="translate(428.39,280.5) rotate(-90)" font-size="5.1" font-weight="bold" text-anchor="end" class="xt">13.6</text>
<text transform="translate(438.91,280.5) rotate(-90)" font-size="5.1" font-weight="bold" text-anchor="end" class="xt">14</text>
<text transform="translate(449.43,280.5) rotate(-90)" font-size="5.1" font-weight="bold" text-anchor="end" class="xt">16</text>
<text transform="translate(459.95,280.5) rotate(-90)" font-size="5.1" font-weight="bold" text-anchor="end" class="xt">17</text>
<text transform="translate(470.46,280.5) rotate(-90)" font-size="5.1" font-weight="bold" text-anchor="end" class="xt">18</text>
<text transform="translate(480.98,280.5) rotate(-90)" font-size="5.1" font-weight="bold" text-anchor="end" class="xt">20</text>
<text transform="translate(491.5,280.5) rotate(-90)" font-size="5.1" font-weight="bold" text-anchor="end" class="xt">21.3</text>
<text transform="translate(502.02,280.5) rotate(-90)" font-size="5.1" font-weight="bold" text-anchor="end" class="xt">22</text>
<text transform="translate(512.54,280.5) rotate(-90)" font-size="5.1" font-weight="bold" text-anchor="end" class="xt">23</text>
<text x="374.5" y="174.2" font-size="15.4" text-anchor="middle" class="pl">G</text>
</g>
<text transform="translate(13,243.4) rotate(-90)" font-size="14.87" text-anchor="start" class="tt">% expression within CD3+ cells</text>
<text x="218.3" y="313.2" font-size="14.68" text-anchor="start" class="tt">TCRBV gene family</text>
</g>
</svg>
</body></html>
